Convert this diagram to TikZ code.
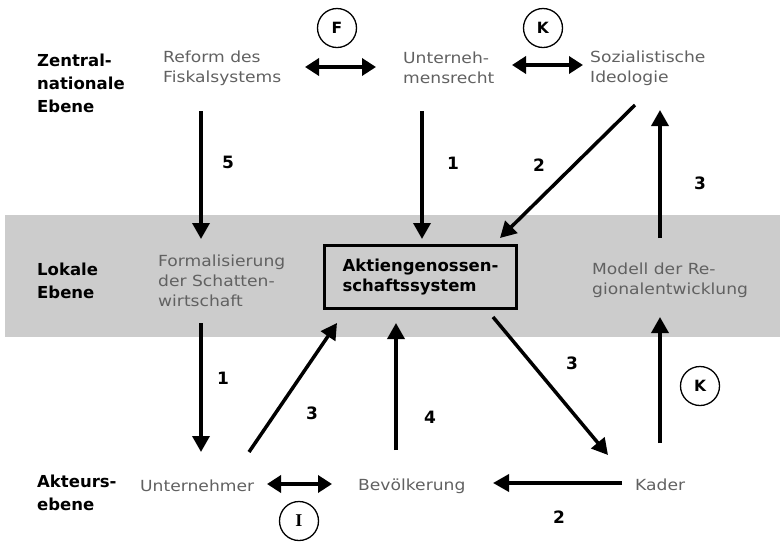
\documentclass[tikz,border=0pt]{standalone}
\usepackage{fontspec}
\setmainfont{DejaVu Sans}
\newfontfamily\widefont{DejaVu Sans}[FakeStretch=1.12]
\newfontfamily\serifI{Liberation Serif}
\usetikzlibrary{arrows.meta}
\begin{document}
\begin{tikzpicture}[x=1pt,y=-1pt,
  lbl/.style={font=\bfseries\fontsize{16.5}{23}\selectfont, align=left, anchor=west, inner sep=0pt},
  txt/.style={text=black!62, font=\widefont\fontsize{15.3}{20}\selectfont, align=left, anchor=west, inner sep=0pt},
  num/.style={font=\bfseries\fontsize{17}{18}\selectfont, inner sep=0pt},
  circ/.style={circle, draw, line width=1.3pt, minimum size=39pt, inner sep=0pt, font=\bfseries\fontsize{15.5}{16}\selectfont},
  arr/.style={line width=3.5pt, -{Triangle[length=16pt,width=17pt]}},
  dbl/.style={line width=4pt, {Triangle[length=14pt,width=17pt]}-{Triangle[length=14pt,width=17pt]}}
]
\useasboundingbox (0,0) rectangle (780,542);
% band
\fill[black!20] (5,215) rectangle (780,337);

% level labels
\node[lbl] (zn) at (37,83) {Zentral-\\nationale\\Ebene};
\node[lbl] (le) at (37,281) {Lokale\\Ebene};
\node[lbl] (ae) at (37,493) {Akteurs-\\ebene};

% top row
\node[txt] (reform) at (163,68) {Reform des\\Fiskalsystems};
\node[txt] (urecht) at (403,68) {Unterneh-\\mensrecht};
\node[txt] (ideo) at (590,68) {Sozialistische\\Ideologie};
\node[circ] (cF) at (337,28) {F};
\node[circ] (cK1) at (543,28) {K};

% middle row
\node[txt] (formal) at (158,281) {Formalisierung\\der Schatten-\\wirtschaft};
\node[draw, line width=3pt, fill=black!20, minimum width=192pt, minimum height=63pt,
      inner sep=0pt, align=left, font=\bfseries\fontsize{16.5}{20}\selectfont] (box) at (420.5,277)
      {Aktiengenossen-\\schaftssystem};
\node[txt] (modell) at (592,280) {Modell der Re-\\gionalentwicklung};

% bottom row
\node[txt] (untern) at (140,486) {Unternehmer};
\node[txt] (bevoelk) at (358,486) {Bevölkerung};
\node[txt] (kader) at (635,485) {Kader};
\node[circ, font=\serifI\bfseries\fontsize{18}{18}\selectfont] (cI) at (299,521) {I};
\node[circ] (cK2) at (700,386) {K};

% coordinates for connector ends
\coordinate (a5s) at (201,111);   \coordinate (a5e) at (201,239);
\coordinate (a1s) at (422,111);   \coordinate (a1e) at (422,239);
\coordinate (a2s) at (635,105);   \coordinate (a2e) at (500,238);
\coordinate (a3s) at (660,238);   \coordinate (a3e) at (660,110);
\coordinate (b1s) at (201,323);   \coordinate (b1e) at (201,452);
\coordinate (b3s) at (249,452);   \coordinate (b3e) at (337,323);
\coordinate (b4s) at (396,450);   \coordinate (b4e) at (396,323);
\coordinate (c3s) at (493,317);   \coordinate (c3e) at (608,455);
\coordinate (k2s) at (660,443);   \coordinate (k2e) at (660,317);
\coordinate (kbs) at (622,483);   \coordinate (kbe) at (493,483);
\coordinate (dFs) at (305,67);    \coordinate (dFe) at (376,67);
\coordinate (dKs) at (512,65);    \coordinate (dKe) at (583,65);
\coordinate (dIs) at (267,484);   \coordinate (dIe) at (332,484);

% connectors
\draw[arr] (a5s) -- (a5e);
\draw[arr] (a1s) -- (a1e);
\draw[arr] (a2s) -- (a2e);
\draw[arr] (a3s) -- (a3e);
\draw[arr] (b1s) -- (b1e);
\draw[arr] (b3s) -- (b3e);
\draw[arr] (b4s) -- (b4e);
\draw[arr] (c3s) -- (c3e);
\draw[arr] (k2s) -- (k2e);
\draw[arr] (kbs) -- (kbe);
\draw[dbl] (dFs) -- (dFe);
\draw[dbl] (dKs) -- (dKe);
\draw[dbl] (dIs) -- (dIe);

% numbers
\node[num] (n5) at (228,162) {5};
\node[num] (n1a) at (453,163) {1};
\node[num] (n2a) at (539,165) {2};
\node[num] (n3a) at (700,183) {3};
\node[num] (n1b) at (223,378) {1};
\node[num] (n3b) at (312,413) {3};
\node[num] (n4) at (430,417) {4};
\node[num] (n3c) at (572,363) {3};
\node[num] (n2b) at (559,517) {2};
\end{tikzpicture}
\end{document}
